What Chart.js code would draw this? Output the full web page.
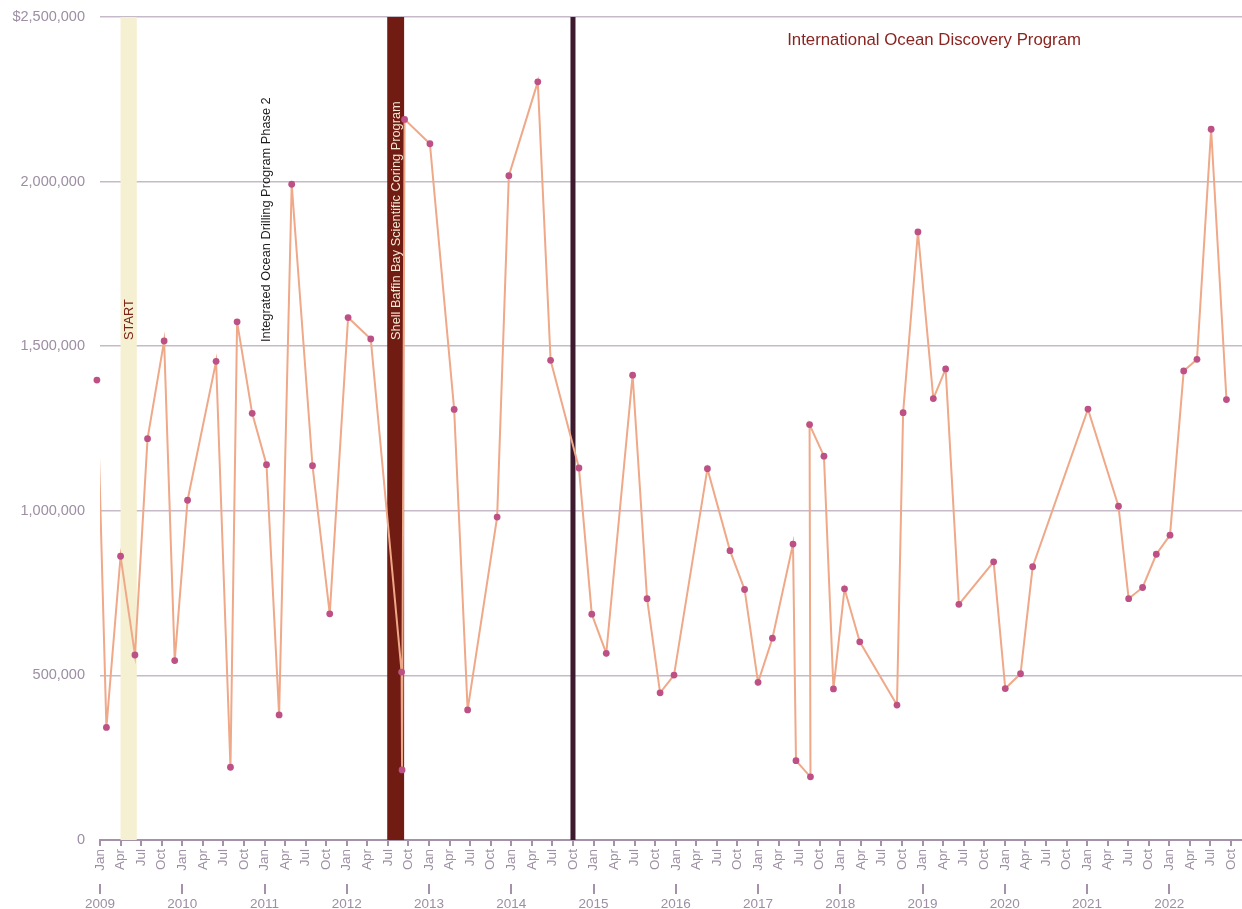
<!DOCTYPE html>
<html>
<head>
<meta charset="utf-8">
<script src="https://cdn.jsdelivr.net/npm/chart.js@4.4.1/dist/chart.umd.min.js"></script>
<style>
  body { margin: 0; background: #fff; }
  #wrap { width: 1242px; height: 909px; }
</style>
</head>
<body>
<div id="wrap"><canvas id="chart"></canvas></div>
<script>
// award dates and amounts (USD)
const dates = [
  '2008-12-18', '2009-01-30', '2009-04-01', '2009-06-04', '2009-07-30', '2009-10-12',
  '2009-11-28', '2010-01-25', '2010-05-30', '2010-08-02', '2010-09-01', '2010-11-07',
  '2011-01-10', '2011-03-05', '2011-04-30', '2011-08-01', '2011-10-17', '2012-01-07',
  '2012-04-16', '2012-09-01', '2012-09-03', '2012-09-14', '2013-01-05', '2013-04-21',
  '2013-06-20', '2013-10-30', '2013-12-21', '2014-04-27', '2014-06-23', '2014-10-28',
  '2014-12-24', '2015-02-25', '2015-06-22', '2015-08-26', '2015-10-23', '2015-12-24',
  '2016-05-20', '2016-08-29', '2016-11-02', '2017-01-01', '2017-03-04', '2017-06-04',
  '2017-06-17', '2017-08-21', '2017-08-17', '2017-10-20', '2017-12-01', '2018-01-20',
  '2018-03-27', '2018-09-09', '2018-10-06', '2018-12-11', '2019-02-17', '2019-04-12',
  '2019-06-10', '2019-11-12', '2020-01-03', '2020-03-10', '2020-05-03', '2021-01-05',
  '2021-05-19', '2021-07-03', '2021-09-04', '2021-11-04', '2022-01-04', '2022-03-04',
  '2022-05-02', '2022-07-04', '2022-09-11'
];
const amounts = [
  1397000, 342000, 862000, 562000, 1219000, 1516000,
  545000, 1032000, 1454000, 221000, 1574000, 1296000,
  1140000, 380000, 1992000, 1137000, 687000, 1587000,
  1522000, 510000, 213000, 2189000, 2115000, 1308000,
  395000, 981000, 2018000, 2303000, 1457000, 1130000,
  686000, 567000, 1412000, 733000, 447000, 501000,
  1128000, 879000, 761000, 479000, 613000, 899000,
  241000, 192000, 1262000, 1166000, 459000, 763000,
  602000, 410000, 1298000, 1847000, 1341000, 1431000,
  716000, 845000, 460000, 505000, 830000, 1309000,
  1014000, 733000, 767000, 868000, 926000, 1425000,
  1460000, 2159000, 1338000
];

const monthNames = ['Jan', 'Apr', 'Jul', 'Oct'];
const years = [2009, 2010, 2011, 2012, 2013, 2014, 2015, 2016, 2017, 2018, 2019, 2020, 2021, 2022];
const yTicks = [0, 500000, 1000000, 1500000, 2000000, 2500000];
const axisEnd = '2022-11-19';

const bands = [
  { label: 'START', from: '2009-04-01', to: '2009-06-12', fill: '#f4f0d1', text: '#7b2418' },
  { label: 'Shell Baffin Bay Scientific Coring Program', from: '2012-06-28', to: '2012-09-12', fill: '#711c13', text: '#f5e9d6' }
];
const markers = [
  { label: 'Integrated Ocean Drilling Program Phase 2', at: '2011-01-11', text: '#1e1a1e' }
];
const phase = { label: 'International Ocean Discovery Program', at: '2014-10-01', labelAt: '2019-02-20' };

const labelColor = '#9d8ea3';
const gridColor = '#c6bac8';
const axisColor = '#a591a9';

// months since Jan 2009
function toMonth(s) {
  const [y, m, d] = s.split('-').map(Number);
  const dim = new Date(y, m, 0).getDate();
  return (y - 2009) * 12 + (m - 1) + (d - 1) / dim;
}

const points = dates.map((d, i) => ({ x: toMonth(d), y: amounts[i] }));
const xMax = toMonth(axisEnd);
const quarterTicks = [];
for (let m = 0; m <= xMax; m += 3) quarterTicks.push(m);

function noPad(s) {
  s.paddingLeft = 0;
  s.paddingRight = 0;
  s.paddingTop = 0;
  s.paddingBottom = 0;
}

const annotations = {
  id: 'annotations',
  beforeDatasetsDraw(chart) {
    const { ctx, chartArea } = chart;
    const x = chart.scales.x;
    const top = chartArea.top, bottom = chartArea.bottom;
    const textBase = top + 323;
    ctx.save();
    ctx.font = '12.8px "Liberation Sans", Arial, sans-serif';
    ctx.textAlign = 'left';
    ctx.textBaseline = 'middle';

    bands.forEach(b => {
      const x1 = x.getPixelForValue(toMonth(b.from));
      const x2 = x.getPixelForValue(toMonth(b.to));
      ctx.fillStyle = b.fill;
      ctx.fillRect(x1, top, x2 - x1, bottom - top);
      ctx.save();
      ctx.translate((x1 + x2) / 2 + 0.5, textBase);
      ctx.rotate(-Math.PI / 2);
      ctx.fillStyle = b.text;
      ctx.fillText(b.label, 0, 0);
      ctx.restore();
    });

    markers.forEach(mk => {
      const px = x.getPixelForValue(toMonth(mk.at));
      ctx.save();
      ctx.translate(px, textBase + 2);
      ctx.rotate(-Math.PI / 2);
      ctx.fillStyle = mk.text;
      ctx.fillText(mk.label, 0, 0);
      ctx.restore();
    });

    // phase boundary
    const lx = x.getPixelForValue(toMonth(phase.at));
    ctx.fillStyle = '#3e1a2f';
    ctx.fillRect(lx - 2.5, top, 5, bottom - top);

    ctx.font = '16.8px "Liberation Sans", Arial, sans-serif';
    ctx.textAlign = 'center';
    ctx.fillStyle = '#8a2420';
    ctx.fillText(phase.label, x.getPixelForValue(toMonth(phase.labelAt)), top + 23);
    ctx.restore();
  }
};

const ctx = document.getElementById('chart');
new Chart(ctx, {
  type: 'line',
  data: {
    datasets: [{
      data: points,
      showLine: false,
      pointRadius: 3.4,
      pointBackgroundColor: '#bd5186',
      pointBorderWidth: 0,
      clip: false
    }, {
      data: points,
      borderColor: '#efa888',
      borderWidth: 2,
      pointRadius: 0,
      tension: 0
    }]
  },
  options: {
    responsive: true,
    maintainAspectRatio: false,
    animation: false,
    events: [],
    layout: { autoPadding: false, padding: { top: 17, right: 0, left: 0, bottom: 0 } },
    plugins: {
      legend: { display: false },
      tooltip: { enabled: false }
    },
    scales: {
      x: {
        type: 'linear',
        position: 'bottom',
        min: 0,
        max: xMax,
        afterBuildTicks: s => { s.ticks = quarterTicks.map(v => ({ value: v })); },
        afterFit: s => { s.height = 44; noPad(s); },
        ticks: {
          autoSkip: false,
          minRotation: 90,
          maxRotation: 90,
          padding: 3,
          color: labelColor,
          font: { family: '"Liberation Sans", Arial, sans-serif', size: 13.5 },
          callback: v => monthNames[Math.round(v / 3) % 4]
        },
        grid: { drawOnChartArea: false, tickLength: 6, color: axisColor, lineWidth: 2 },
        border: { color: axisColor, width: 2 }
      },
      x2: {
        type: 'linear',
        position: 'bottom',
        min: 0,
        max: xMax,
        afterBuildTicks: s => { s.ticks = years.map((y, i) => ({ value: i * 12 })); },
        afterFit: s => { s.height = 25; noPad(s); },
        ticks: {
          autoSkip: false,
          maxRotation: 0,
          padding: 2,
          color: labelColor,
          font: { family: '"Liberation Sans", Arial, sans-serif', size: 13.5 },
          callback: v => years[Math.round(v / 12)]
        },
        grid: { drawOnChartArea: false, tickLength: 10, color: axisColor, lineWidth: 2 },
        border: { display: false }
      },
      y: {
        min: 0,
        max: 2500000,
        afterBuildTicks: s => { s.ticks = yTicks.map(v => ({ value: v })); },
        afterFit: s => { s.width = 100; noPad(s); },
        ticks: {
          padding: 15,
          color: labelColor,
          font: { family: '"Liberation Sans", Arial, sans-serif', size: 14.5 },
          callback: v => (v === 2500000 ? '$' : '') + v.toLocaleString('en-US')
        },
        grid: { drawTicks: false, color: gridColor, lineWidth: 1.5 },
        border: { display: false }
      }
    }
  },
  plugins: [annotations]
});
</script>
</body>
</html>
